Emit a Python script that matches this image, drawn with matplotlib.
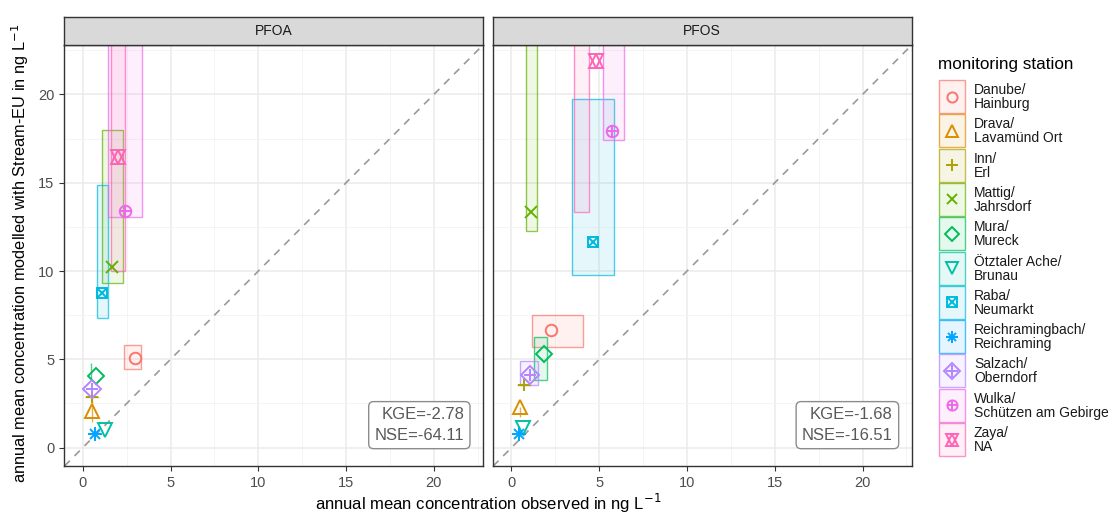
import matplotlib
matplotlib.use("Agg")
import matplotlib.pyplot as plt
from matplotlib.patches import Rectangle

plt.rcParams['font.family'] = ['Liberation Sans', 'DejaVu Sans']

# stations and ggplot hue colours
stations = ["Danube/\nHainburg", "Drava/\nLavamünd Ort", "Inn/\nErl", "Mattig/\nJahrsdorf",
            "Mura/\nMureck", "Ötztaler Ache/\nBrunau", "Raba/\nNeumarkt",
            "Reichramingbach/\nReichraming", "Salzach/\nOberndorf",
            "Wulka/\nSchützen am Gebirge", "Zaya/\nNA"]
colors = ["#F8766D", "#DB8E00", "#AEA200", "#64B200", "#00BD5C", "#00C1A7",
          "#00BADE", "#00A6FF", "#B385FF", "#EF67EB", "#FF63B6"]
# marker parts (marker, relative size)
shapes = [[('o', 1.0)], [('^', 1.2)], [('+', 1.1)], [('x', 1.0)], [('D', 1.0)],
          [('v', 1.2)], [('s', 0.95), ('x', 0.95)], [('+', 1.15), ('x', 0.85)],
          [('D', 1.05), ('+', 1.1)], [('o', 1.0), ('+', 1.0)], [('^', 1.2), ('v', 1.2)]]

# PFOA: observed / modelled annual means
pfoa_obs = [2.98, 0.52, 0.52, 1.69, 0.74, 1.26, 1.12, 0.67, 0.52, 2.41, 2.03]
pfoa_mod = [5.09, 2.07, 2.89, 10.21, 4.06, 1.00, 8.76, 0.78, 3.32, 13.38, 16.46]
# ranges (obs min, obs max, mod min, mod max); None = no range drawn
pfoa_rng = [(2.32, 3.33, 4.47, 5.80), (0.50, 0.50, 1.47, 2.89), (0.15, 0.90, 2.89, 2.89),
            (1.08, 2.28, 9.32, 17.97), (0.49, 0.49, 3.90, 4.78), None,
            (0.80, 1.43, 7.36, 14.85), None, None,
            (1.46, 3.40, 13.04, 30.0), (1.62, 2.43, 10.02, 30.0)]

# PFOS
pfos_obs = [2.26, 0.50, 0.72, 1.12, 1.88, 0.63, 4.62, 0.45, 1.08, 5.72, 4.83]
pfos_mod = [6.65, 2.29, 3.55, 13.35, 5.29, 1.12, 11.65, 0.77, 4.14, 17.91, 21.92]
pfos_rng = [(1.18, 4.09, 5.72, 7.53), (0.50, 0.50, 1.75, 2.30), (0.34, 1.14, 3.55, 3.55),
            (0.82, 1.44, 12.26, 30.0), (1.31, 2.02, 3.84, 6.29), None,
            (3.42, 5.84, 9.79, 19.75), None, (0.49, 1.50, 3.54, 4.90),
            (5.19, 6.41, 17.40, 30.0), (3.57, 4.41, 13.35, 30.0)]

panels = ["PFOA", "PFOS"]
scores = ["KGE=-2.78\nNSE=-64.11", "KGE=-1.68\nNSE=-16.51"]
ticks = [0, 5, 10, 15, 20]

W, H = 1110, 513
fig = plt.figure(figsize=(W / 100, H / 100), dpi=100)


def draw_marker(ax, x, y, i, ms=8.3):
    for m, f in shapes[i]:
        ax.plot(x, y, linestyle='none', marker=m, ms=ms * f, mew=1.4,
                mfc='none', mec=colors[i], color=colors[i], zorder=4)


data = [(pfoa_obs, pfoa_mod, pfoa_rng), (pfos_obs, pfos_mod, pfos_rng)]
lefts = [64, 492.7]
for k, (obs, mod, rng) in enumerate(data):
    ax = fig.add_axes([lefts[k] / W, 1 - 466 / H, 419 / W, 421 / H])
    ax.set_xlim(-1.07, 22.8)
    ax.set_ylim(-1.04, 22.8)
    ax.set_xticks(ticks)
    ax.set_yticks(ticks)
    ax.set_xticks([2.5, 7.5, 12.5, 17.5, 22.5], minor=True)
    ax.set_yticks([2.5, 7.5, 12.5, 17.5, 22.5], minor=True)
    ax.grid(which='major', color='#EBEBEB', lw=1.1)
    ax.grid(which='minor', color='#F2F2F2', lw=0.6)
    ax.set_axisbelow(True)
    ax.tick_params(which='minor', length=0)
    ax.tick_params(which='major', length=3.5, color='#333333', labelsize=10.5,
                   labelcolor='#4D4D4D')
    if k == 1:
        ax.tick_params(axis='y', left=False, labelleft=False)
    for s in ax.spines.values():
        s.set_color('#333333')
        s.set_linewidth(1.0)
    ax.axline((0, 0), slope=1, ls=(0, (4.5, 4)), color='#999999', lw=1.2, zorder=1)

    for i, r in enumerate(rng):
        if r is None:
            continue
        x0, x1, y0, y1 = r
        ax.add_patch(Rectangle((x0, y0), x1 - x0, y1 - y0, facecolor=colors[i],
                               alpha=0.1, edgecolor='none', zorder=2))
        ax.add_patch(Rectangle((x0, y0), x1 - x0, y1 - y0, facecolor='none',
                               edgecolor=colors[i], alpha=0.7, lw=1.0, zorder=2))
    for i in range(len(stations)):
        draw_marker(ax, obs[i], mod[i], i)

    ax.text(0.955, 0.055, scores[k], transform=ax.transAxes, ha='right', va='bottom',
            fontsize=12, color='#595959', linespacing=1.45, multialignment='right',
            bbox=dict(boxstyle='round,pad=0.35,rounding_size=0.3', fc='white',
                      ec='#8C8C8C', lw=1.0))

    sax = fig.add_axes([lefts[k] / W, 1 - 45 / H, 419 / W, 28 / H])
    sax.set_facecolor('#D9D9D9')
    sax.set_xticks([])
    sax.set_yticks([])
    for s in sax.spines.values():
        s.set_color('#333333')
        s.set_linewidth(1.0)
    sax.text(0.5, 0.5, panels[k], ha='center', va='center', fontsize=10, color='#1A1A1A')

fig.text(20 / W, 1 - 253 / H, "annual mean concentration modelled with Stream-EU in ng L$^{-1}$",
         rotation=90, ha='center', va='center', fontsize=11.8)
fig.text(488 / W, 1 - 503 / H, "annual mean concentration observed in ng L$^{-1}$",
         ha='center', va='center', fontsize=12)

# legend
lax = fig.add_axes([930 / W, 1 - 470 / H, 180 / W, 430 / H])
lax.set_xlim(930, 1110)
lax.set_ylim(470, 40)
lax.axis('off')
lax.text(938, 64, "monitoring station", ha='left', va='center', fontsize=12.3)
for i, name in enumerate(stations):
    top = 80 + i * 34.3
    lax.add_patch(Rectangle((938.5, top), 26, 33, facecolor=colors[i], alpha=0.1,
                            edgecolor='none'))
    lax.add_patch(Rectangle((938.5, top), 26, 33, facecolor='none',
                            edgecolor=colors[i], alpha=0.7, lw=1.0))
    draw_marker(lax, 951.5, top + 16.5, i, ms=7.3)
    lax.text(974, top + 17, name, ha='left', va='center', fontsize=10,
             linespacing=1.0, color='#1A1A1A')

fig.savefig("out.png", dpi=100)
